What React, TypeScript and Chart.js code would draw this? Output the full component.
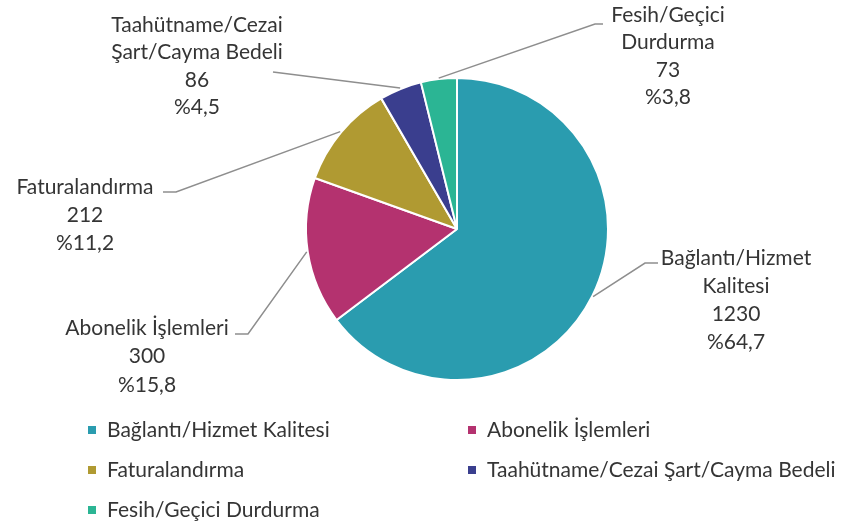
import React, { useEffect, useRef } from "react";
import { Chart, registerables } from "chart.js";

Chart.register(...registerables);

const categories = [
  "Bağlantı/Hizmet Kalitesi",
  "Abonelik İşlemleri",
  "Faturalandırma",
  "Taahütname/Cezai Şart/Cayma Bedeli",
  "Fesih/Geçici Durdurma",
];
const values = [1230, 300, 212, 86, 73];
const percentLabels = ["%64,7", "%15,8", "%11,2", "%4,5", "%3,8"];
const labelNameLines = [
  ["Bağlantı/Hizmet", "Kalitesi"],
  ["Abonelik İşlemleri"],
  ["Faturalandırma"],
  ["Taahütname/Cezai", "Şart/Cayma Bedeli"],
  ["Fesih/Geçici", "Durdurma"],
];
const colors = ["#2a9caf", "#b4326f", "#b09a32", "#3a3e8e", "#2bb594"];

const FONT_FAMILY = "Lato, 'Open Sans', sans-serif";
const FONT_SIZE = 21;
const TEXT_COLOR = "#353535";
const LEADER_COLOR = "#8e8e8e";

// Label layout: text center x, first line middle y, line step, leader path points (text side)
const labelLayout = [
  { cx: 736, y0: 258, step: 28, path: [[658, 263], [645, 263]] },
  { cx: 147, y0: 328, step: 28.5, path: [[235, 334], [248, 334]] },
  { cx: 85, y0: 187, step: 28, path: [[163, 192], [176, 192]] },
  { cx: 197, y0: 25, step: 27.5, path: [[273, 72]] },
  { cx: 668, y0: 15, step: 27.5, path: [[603, 24], [595, 24]] },
];

const legendLayout = {
  colX: [88, 468],
  textOffset: 19,
  rowY: [430, 470, 510],
  box: 8,
};

const labelsPlugin = {
  id: "outerLabels",
  afterDatasetsDraw(chart: any) {
    const ctx = chart.ctx;
    const meta = chart.getDatasetMeta(0);
    ctx.save();
    ctx.font = `${FONT_SIZE}px ${FONT_FAMILY}`;
    meta.data.forEach((arc: any, i: number) => {
      const p = arc.getProps(["x", "y", "startAngle", "endAngle", "outerRadius"], true);
      const mid = (p.startAngle + p.endAngle) / 2;
      const ex = p.x + Math.cos(mid) * (p.outerRadius + 1);
      const ey = p.y + Math.sin(mid) * (p.outerRadius + 1);
      const lay = labelLayout[i];
      ctx.strokeStyle = LEADER_COLOR;
      ctx.lineWidth = 1.5;
      ctx.beginPath();
      lay.path.forEach((pt: number[], k: number) => {
        if (k === 0) ctx.moveTo(pt[0], pt[1]);
        else ctx.lineTo(pt[0], pt[1]);
      });
      ctx.lineTo(ex, ey);
      ctx.stroke();

      const lines = [...labelNameLines[i], String(values[i]), percentLabels[i]];
      ctx.fillStyle = TEXT_COLOR;
      ctx.textAlign = "center";
      ctx.textBaseline = "middle";
      lines.forEach((ln, k) => {
        ctx.fillText(ln, lay.cx, lay.y0 + k * lay.step);
      });
    });

    // legend
    ctx.textAlign = "left";
    ctx.textBaseline = "middle";
    categories.forEach((name, i) => {
      const col = i % 2;
      const row = Math.floor(i / 2);
      const x = legendLayout.colX[col];
      const y = legendLayout.rowY[row];
      ctx.fillStyle = colors[i];
      ctx.fillRect(x, y - legendLayout.box / 2, legendLayout.box, legendLayout.box);
      ctx.fillStyle = TEXT_COLOR;
      ctx.fillText(name, x + legendLayout.textOffset, y);
    });
    ctx.restore();
  },
};

export default function App() {
  const ref = useRef<HTMLCanvasElement | null>(null);
  useEffect(() => {
    if (!ref.current) return;
    const chart = new Chart(ref.current, {
      type: "pie",
      data: {
        labels: categories,
        datasets: [
          {
            data: values,
            backgroundColor: colors,
            borderColor: "#ffffff",
            borderWidth: 2,
          },
        ],
      },
      options: {
        animation: false,
        responsive: true,
        maintainAspectRatio: false,
        layout: { padding: { left: 305, right: 237, top: 77, bottom: 151 } },
        plugins: {
          legend: { display: false },
          tooltip: { enabled: false },
        },
      },
      plugins: [labelsPlugin],
    });
    return () => chart.destroy();
  }, []);
  return (
    <div style={{ position: "fixed", left: 0, top: 0, width: 846, height: 532, background: "#fff" }}>
      <canvas ref={ref} />
    </div>
  );
}
